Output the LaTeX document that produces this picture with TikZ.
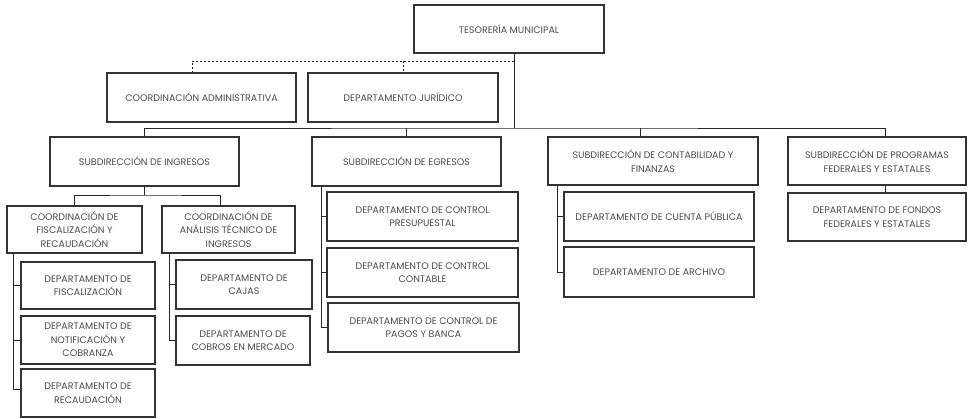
\documentclass[tikz,border=0pt]{standalone}
\usepackage{fontspec}
\setmainfont{Poppins}
\newcommand\bx[6]{\node[box, minimum width={#4-#2}, minimum height={#5-#3}] (#1) at ({(#2+#4)/2},{(#3+#5)/2}) {#6};}
\begin{document}
\begin{tikzpicture}[x=1pt,y=-1pt,
  box/.style={draw=black!80, line width=1.3pt, fill=white, inner sep=1pt, align=center,
    font=\fontsize{9.5}{13.6}\selectfont, text=black!70},
  conn/.style={draw=black!85, line width=0.9pt},
  dashconn/.style={conn, dashed, dash pattern=on 2.5pt off 1.5pt}]
\useasboundingbox[fill=white] (0,0) rectangle (968,419);

% trunk
\coordinate (jm) at (514,128);
\coordinate (dj) at (514,61);

\bx{tes}{414}{5}{604}{53}{TESORERÍA MUNICIPAL}
\bx{cadm}{107}{73}{296}{122}{COORDINACIÓN ADMINISTRATIVA}
\bx{djur}{308}{73}{498}{122}{DEPARTAMENTO JURÍDICO}
\bx{sing}{50}{137}{239}{186}{SUBDIRECCIÓN DE INGRESOS}
\bx{seg}{312}{137}{501}{186}{SUBDIRECCIÓN DE EGRESOS}
\bx{scon}{548}{137}{758}{185}{SUBDIRECCIÓN DE CONTABILIDAD Y\\FINANZAS}
\bx{sprog}{788}{137}{966}{185}{SUBDIRECCIÓN DE PROGRAMAS\\FEDERALES Y ESTATALES}
\bx{cfis}{7}{206}{142}{253}{COORDINACIÓN DE\\FISCALIZACIÓN Y\\RECAUDACIÓN}
\bx{can}{162}{206}{295}{253}{COORDINACIÓN DE\\ANÁLISIS TÉCNICO DE\\INGRESOS}
\bx{dfis}{21}{262}{155}{309}{DEPARTAMENTO DE\\FISCALIZACIÓN}
\bx{dnot}{21}{316}{155}{364}{DEPARTAMENTO DE\\NOTIFICACIÓN Y\\COBRANZA}
\bx{drec}{21}{369}{155}{417}{DEPARTAMENTO DE\\RECAUDACIÓN}
\bx{dcaj}{176}{260}{312}{309}{DEPARTAMENTO DE\\CAJAS}
\bx{dcob}{176}{316}{310}{365}{DEPARTAMENTO DE\\COBROS EN MERCADO}
\bx{cpre}{327}{192}{518}{241}{DEPARTAMENTO DE CONTROL\\PRESUPUESTAL}
\bx{ccon}{327}{248}{518}{297}{DEPARTAMENTO DE CONTROL\\CONTABLE}
\bx{cpag}{328}{303}{519}{352}{DEPARTAMENTO DE CONTROL DE\\PAGOS Y BANCA}
\bx{dcue}{564}{192}{754}{241}{DEPARTAMENTO DE CUENTA PÚBLICA}
\bx{darc}{564}{247}{754}{297}{DEPARTAMENTO DE ARCHIVO}
\bx{dfon}{788}{193}{966}{241}{DEPARTAMENTO DE FONDOS\\FEDERALES Y ESTATALES}

% top level
\draw[conn] (tes.south -| jm) -- (jm);
\draw[dashconn] (dj) -| ([xshift=-9.5pt]cadm.north);
\draw[dashconn] (dj -| djur.north) -- (djur.north);
\draw[conn] (sing.north) |- (jm) -| ([xshift=8pt]sprog.north);
\draw[conn] (seg.north) -- (seg.north |- jm);
\draw[conn] ([xshift=-13pt]scon.north) -- ([xshift=-13pt]scon.north |- jm);

% ingresos
\coordinate (ib) at (144,195);
\draw[conn] (sing.south) -- (sing.south |- ib);
\draw[conn] (cfis.north) |- (ib) -| ([xshift=-8.5pt]can.north);
\coordinate (cfv) at ([xshift=7pt]cfis.south west);
\draw[conn] (cfv) |- (dfis.west);
\draw[conn] (cfv) |- (dnot.west);
\draw[conn] (cfv) |- ([yshift=4pt]drec.west);
\coordinate (canv) at ([xshift=8pt]can.south west);
\draw[conn] (canv) |- (dcaj.west);
\draw[conn] (canv) |- (dcob.west);

% egresos
\coordinate (segv) at ([xshift=10pt]seg.south west);
\draw[conn] (segv) |- (cpre.west);
\draw[conn] (segv) |- (ccon.west);
\draw[conn] (segv) |- (cpag.west);

% contabilidad
\coordinate (sconv) at ([xshift=10pt]scon.south west);
\draw[conn] (sconv) |- (dcue.west);
\draw[conn] (sconv) |- (darc.west);

% programas
\draw[conn] ([xshift=8pt]sprog.south) -- ([xshift=8pt]dfon.north);
\end{tikzpicture}
\end{document}
